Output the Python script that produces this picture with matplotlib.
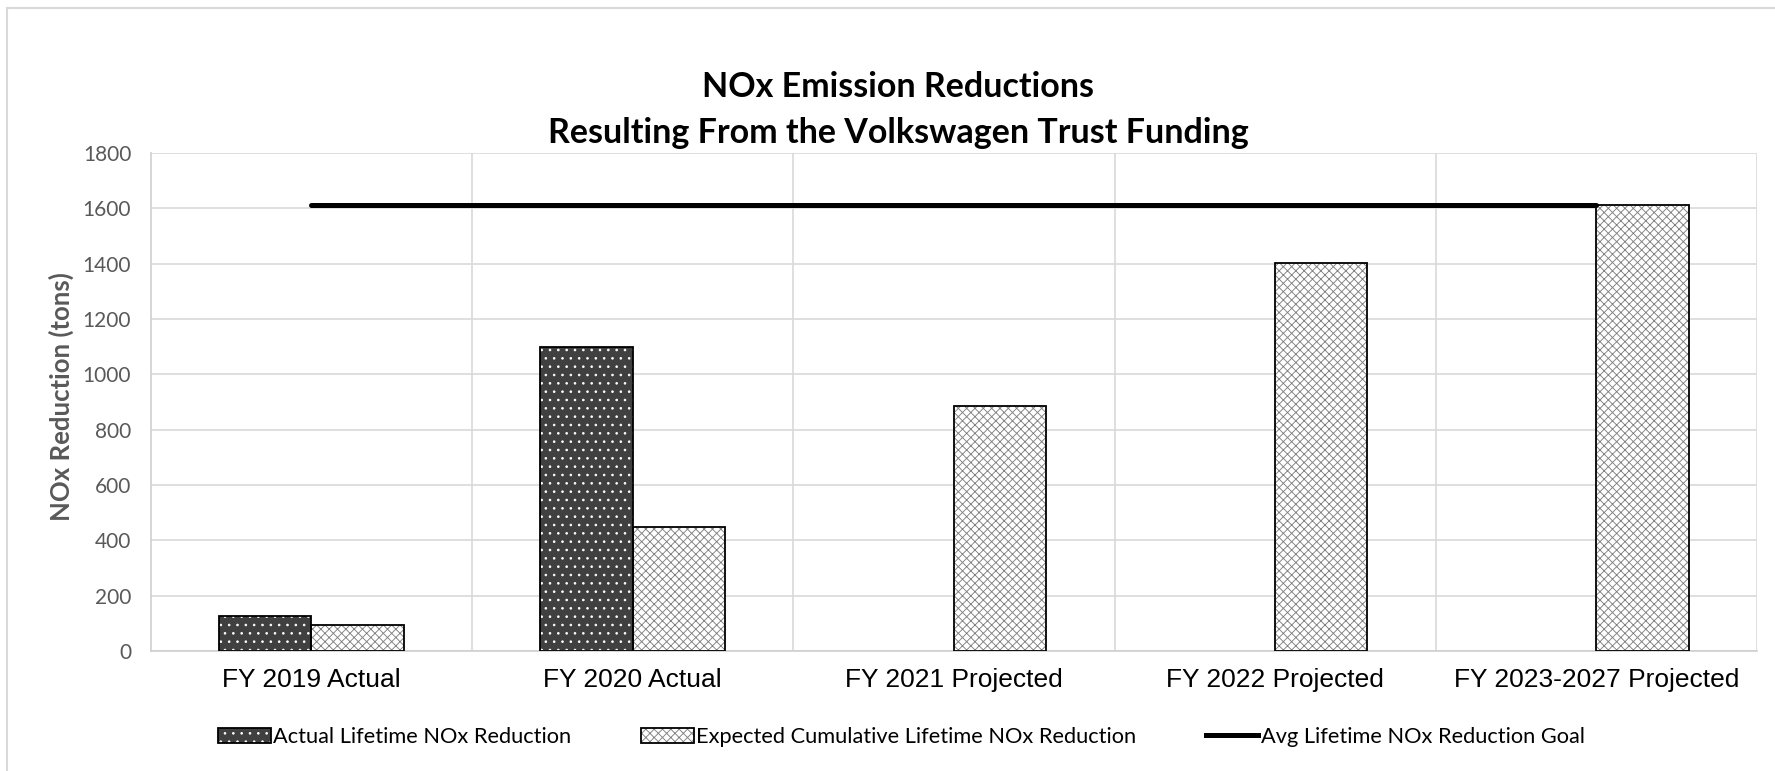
import numpy as np
import matplotlib
matplotlib.use("Agg")
import matplotlib.pyplot as plt
from matplotlib.lines import Line2D
from matplotlib.patches import Patch

categories = ["FY 2019 Actual", "FY 2020 Actual", "FY 2021 Projected",
              "FY 2022 Projected", "FY 2023-2027 Projected"]
actual = [125, 1100, np.nan, np.nan, np.nan]
expected = [93, 448, 885, 1402, 1612]
goal = [1612, 1612, 1612, 1612, 1612]

plt.rcParams["hatch.linewidth"] = 0.65

fig = plt.figure(figsize=(17.75, 7.71), dpi=100)
ax = fig.add_axes([0.0849, 0.1556, 0.905, 0.646])

x = np.arange(len(categories))
w = 0.287

# fill + hatch first, then black outline on top
ax.bar(x - w / 2, actual, w, color="#404040", edgecolor="white", hatch="..", linewidth=0, zorder=2)
ax.bar(x - w / 2, actual, w, fill=False, edgecolor="black", linewidth=1.3, zorder=3)
ax.bar(x + w / 2, expected, w, color="white", edgecolor="#808080", hatch="xxxx", linewidth=0, zorder=2)
ax.bar(x + w / 2, expected, w, fill=False, edgecolor="black", linewidth=1.3, zorder=3)
ax.plot(x, goal, color="black", linewidth=3.6, solid_capstyle="round", zorder=4)

ax.set_xlim(-0.5, 4.5)
ax.set_ylim(0, 1800)
ax.set_yticks(range(0, 1801, 200))
ax.set_xticks(x)
ax.set_xticklabels(categories, fontsize=19, family="Liberation Sans", color="black")
ax.set_xticks(x + 0.5, minor=True)
ax.tick_params(axis="x", which="both", length=0, pad=12)
ax.tick_params(axis="y", length=0, pad=14, labelsize=15, labelcolor="#595959")
for lab in ax.get_yticklabels():
    lab.set_family("Lato")

ax.grid(axis="y", color="#d9d9d9", linewidth=1.2, zorder=0)
ax.grid(axis="x", which="minor", color="#d9d9d9", linewidth=1.2, zorder=0)
ax.set_axisbelow(True)
for s in ["top", "right"]:
    ax.spines[s].set_visible(False)
for s in ["left", "bottom"]:
    ax.spines[s].set_color("#cfcfcf")
    ax.spines[s].set_linewidth(1.2)

ax.set_ylabel("NOx Reduction (tons)", fontsize=18.5, fontweight="bold", family="Lato", color="#595959")
ax.yaxis.set_label_coords(-0.048, 0.51)

fig.text(0.506, 0.887, "NOx Emission Reductions", ha="center", va="center",
         fontsize=24.5, fontweight="bold", family="Lato")
fig.text(0.506, 0.828, "Resulting From the Volkswagen Trust Funding", ha="center", va="center",
         fontsize=24.5, fontweight="bold", family="Lato")

h1 = (Patch(facecolor="#404040", edgecolor="white", hatch="..", linewidth=0),
      Patch(fill=False, edgecolor="black", linewidth=1.3))
h2 = (Patch(facecolor="white", edgecolor="#808080", hatch="xxxx", linewidth=0),
      Patch(fill=False, edgecolor="black", linewidth=1.3))
h3 = Line2D([], [], color="black", linewidth=3.6)
fig.legend([h1, h2, h3],
           ["Actual Lifetime NOx Reduction", "Expected Cumulative Lifetime NOx Reduction",
            "Avg Lifetime NOx Reduction Goal"],
           loc="center", bbox_to_anchor=(0.508, 0.044), ncol=3, frameon=False,
           prop={"family": "Lato", "size": 15.7}, handlelength=2.4, handleheight=0.7,
           handletextpad=0.12, columnspacing=3.2, borderaxespad=0)

# chart area border (only top and left visible in the crop)
fig.add_artist(Line2D([7 / 1775, 7 / 1775], [0, 1 - 8 / 771], transform=fig.transFigure,
                      color="#d9d9d9", linewidth=1.5))
fig.add_artist(Line2D([7 / 1775, 1], [1 - 8 / 771, 1 - 8 / 771], transform=fig.transFigure,
                      color="#d9d9d9", linewidth=1.5))

fig.savefig("out.png", dpi=100)
